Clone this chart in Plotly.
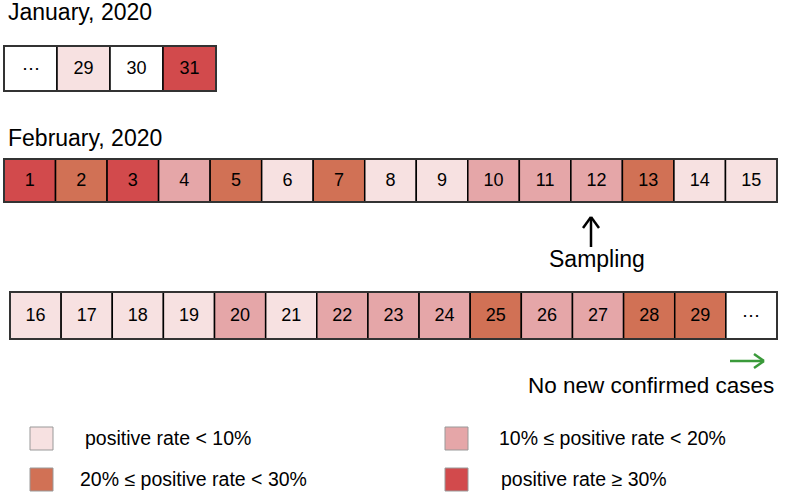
import plotly.graph_objects as go

# ---- data ----
level_colors = ["#F7E1E1", "#E5A6A8", "#D17155", "#D24A4C"]
level_names = ["positive rate < 10%", "10% ≤ positive rate < 20%",
               "20% ≤ positive rate < 30%", "positive rate ≥ 30%"]

jan_labels = ["⋯", "29", "30", "31"]
jan_levels = [None, 0, None, 3]

feb1_labels = ["1", "2", "3", "4", "5", "6", "7", "8", "9", "10", "11", "12", "13", "14", "15"]
feb1_levels = [3, 2, 3, 1, 2, 0, 2, 0, 0, 1, 1, 1, 2, 0, 0]

feb2_labels = ["16", "17", "18", "19", "20", "21", "22", "23", "24", "25", "26", "27", "28", "29", "⋯"]
feb2_levels = [0, 0, 0, 0, 1, 0, 1, 1, 1, 2, 1, 1, 2, 2, None]

FONT = "Liberation Sans, Arial, sans-serif"

fig = go.Figure()
shapes = []
annotations = []


def draw_row(labels, levels, x0, x1, y0, y1):
    n = len(labels)
    w = (x1 - x0) / n
    xs, ys = [], []
    for i, (lab, lev) in enumerate(zip(labels, levels)):
        cx0 = x0 + i * w
        fill = "white" if lev is None else level_colors[lev]
        shapes.append(dict(type="rect", xref="x", yref="y", x0=cx0, x1=cx0 + w, y0=y0, y1=y1,
                           fillcolor=fill, line=dict(color="black", width=1.5), layer="below"))
        xs.append(cx0 + w / 2)
        ys.append((y0 + y1) / 2 + 1)
    shapes.append(dict(type="rect", xref="x", yref="y", x0=x0, x1=x1, y0=y0, y1=y1,
                       fillcolor="rgba(0,0,0,0)", line=dict(color="#333", width=2), layer="below"))
    fig.add_trace(go.Scatter(x=xs, y=ys, mode="text", text=labels,
                             textfont=dict(size=18, color="black", family=FONT),
                             hoverinfo="skip", showlegend=False))


draw_row(jan_labels, jan_levels, 4, 216, 46, 91)
draw_row(feb1_labels, feb1_levels, 4, 777, 159, 202)
draw_row(feb2_labels, feb2_levels, 10, 777, 292, 339)

# titles
annotations.append(dict(x=6, y=12, xref="x", yref="y", text="January, 2020", showarrow=False,
                        xanchor="left", yanchor="middle", font=dict(size=23, color="black", family=FONT)))
annotations.append(dict(x=6, y=138, xref="x", yref="y", text="February, 2020", showarrow=False,
                        xanchor="left", yanchor="middle", font=dict(size=23, color="black", family=FONT)))

# sampling arrow
ax = 591
shapes.append(dict(type="line", xref="x", yref="y", x0=ax, x1=ax, y0=217, y1=247,
                   line=dict(color="black", width=2.5)))
shapes.append(dict(type="line", xref="x", yref="y", x0=ax - 8, x1=ax, y0=228, y1=217,
                   line=dict(color="black", width=2.5)))
shapes.append(dict(type="line", xref="x", yref="y", x0=ax + 8, x1=ax, y0=228, y1=217,
                   line=dict(color="black", width=2.5)))
annotations.append(dict(x=597, y=259, xref="x", yref="y", text="Sampling", showarrow=False,
                        xanchor="center", yanchor="middle", font=dict(size=23, color="black", family=FONT)))

# green arrow
gy = 361
shapes.append(dict(type="line", xref="x", yref="y", x0=730, x1=764, y0=gy, y1=gy,
                   line=dict(color="#3A9A3A", width=2.5)))
shapes.append(dict(type="line", xref="x", yref="y", x0=754, x1=764, y0=gy - 7, y1=gy,
                   line=dict(color="#3A9A3A", width=2.5)))
shapes.append(dict(type="line", xref="x", yref="y", x0=754, x1=764, y0=gy + 7, y1=gy,
                   line=dict(color="#3A9A3A", width=2.5)))
annotations.append(dict(x=776, y=385, xref="x", yref="y", text="No new confirmed cases", showarrow=False,
                        xanchor="right", yanchor="middle", font=dict(size=22.5, color="black", family=FONT)))

# legend
leg_pos = [(30, 427, 83), (445, 427, 497), (30, 468, 78), (445, 468, 499)]
for (lx, ly, tx), col, name in zip(leg_pos, level_colors, level_names):
    shapes.append(dict(type="rect", xref="x", yref="y", x0=lx, x1=lx + 23, y0=ly, y1=ly + 23,
                       fillcolor=col, line=dict(color="#999", width=1)))
    annotations.append(dict(x=tx, y=ly + 11, xref="x", yref="y", text=name, showarrow=False,
                            xanchor="left", yanchor="middle", font=dict(size=19.5, color="black", family=FONT)))

fig.update_layout(
    width=790, height=493, margin=dict(l=0, r=0, t=0, b=0),
    paper_bgcolor="white", plot_bgcolor="white",
    xaxis=dict(range=[0, 790], visible=False, fixedrange=True),
    yaxis=dict(range=[493, 0], visible=False, fixedrange=True),
    shapes=shapes, annotations=annotations, showlegend=False,
)

fig.write_html("out.html", config={"displayModeBar": False},
               post_script="document.body.style.margin='0px';document.body.style.overflow='hidden';")
